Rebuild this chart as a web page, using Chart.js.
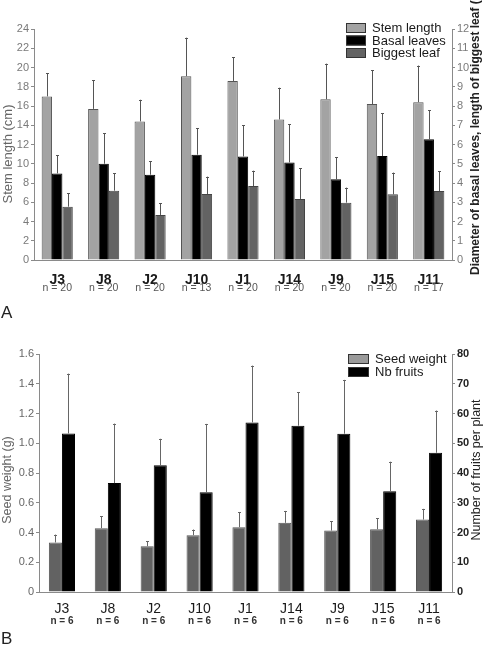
<!DOCTYPE html>
<html><head><meta charset="utf-8">
<script src="https://cdn.jsdelivr.net/npm/chart.js@4.4.0/dist/chart.umd.min.js"></script>
<style>
html,body{margin:0;padding:0;background:#fff;}
#wrap{position:relative;width:489px;height:649px;overflow:hidden;background:#fff;}
canvas{position:absolute;left:0;}
</style></head><body>
<div id="wrap">
<canvas id="cA" width="489" height="325" style="top:0"></canvas>
<canvas id="cB" width="489" height="324" style="top:325px"></canvas>
</div>
<script>
// ---------- data ----------
const categories = ['J3','J8','J2','J10','J1','J14','J9','J15','J11'];
const sampleSizeA = [20,20,20,13,20,20,20,20,17];
const sampleSizeB = [6,6,6,6,6,6,6,6,6];

const stemLength    = [17.0,15.7,14.4,19.1,18.6,14.6,16.7,16.2,16.4];
const stemLengthSD  = [2.4,3.0,2.25,4.0,2.45,3.3,3.7,3.5,3.8];
const basalLeaves   = [4.5,5.0,4.43,5.47,5.38,5.07,4.19,5.4,6.27];
const basalLeavesSD = [0.95,1.58,0.7,1.37,1.63,1.99,1.14,2.22,1.52];
const biggestLeaf   = [2.77,3.6,2.34,3.43,3.84,3.17,2.98,3.41,3.58];
const biggestLeafSD = [0.69,0.9,0.6,0.9,0.8,1.59,0.78,1.13,1.02];

const seedWeight    = [0.333,0.429,0.308,0.382,0.436,0.465,0.413,0.422,0.487];
const seedWeightSD  = [0.053,0.081,0.032,0.038,0.101,0.08,0.061,0.074,0.072];
const nbFruits      = [53.3,36.6,42.6,33.5,57.0,55.9,53.2,33.9,46.8];
const nbFruitsSD    = [20.1,20.0,8.9,23.0,19.1,11.2,18.1,9.9,14.2];

const ticksStem   = [0,2,4,6,8,10,12,14,16,18,20,22,24];
const ticksLeaf   = [0,1,2,3,4,5,6,7,8,9,10,11,12];
const ticksSeed   = [0,0.2,0.4,0.6,0.8,1.0,1.2,1.4,1.6];
const ticksFruits = [0,10,20,30,40,50,60,70,80];

// ---------- helpers ----------
const FONT = 'Arial, "Liberation Sans", sans-serif';
function setTicks(arr){ return function(scale){ scale.ticks = arr.map(v=>({value:v})); }; }

const errorBars = {
  id:'errorBars',
  afterDatasetsDraw(chart){
    const ctx = chart.ctx;
    chart.data.datasets.forEach((ds,i)=>{
      const meta = chart.getDatasetMeta(i);
      const sc = chart.scales[meta.yAxisID];
      meta.data.forEach((el,j)=>{
        const top = sc.getPixelForValue(ds.data[j] + ds.errors[j]);
        const x = Math.round(el.x) + 0.5;
        ctx.save();
        ctx.strokeStyle = ds.errColor || '#555';
        ctx.lineWidth = 1;
        ctx.beginPath();
        ctx.moveTo(x, el.y);
        ctx.lineTo(x, top);
        ctx.moveTo(x-1.5, Math.round(top)+0.5);
        ctx.lineTo(x+1.5, Math.round(top)+0.5);
        ctx.stroke();
        ctx.restore();
      });
    });
  }
};

function decorPlugin(cfg){
  return {
    id:'decor',
    afterDraw(chart){
      const ctx = chart.ctx;
      const xs = chart.scales.x;
      ctx.save();
      ctx.font = cfg.nFont;
      ctx.fillStyle = cfg.nColor;
      ctx.textAlign = 'center';
      ctx.textBaseline = 'middle';
      cfg.n.forEach((n,i)=>{
        ctx.fillText('n = ' + n, xs.getPixelForTick(i), cfg.nY);
      });
      cfg.titles.forEach(t=>{
        ctx.save();
        ctx.translate(t.x, t.y);
        ctx.rotate(-Math.PI/2);
        ctx.font = t.font;
        ctx.fillStyle = t.color;
        ctx.textAlign = t.align;
        ctx.textBaseline = 'middle';
        ctx.fillText(t.text, 0, 0);
        ctx.restore();
      });
      cfg.legend.items.forEach((it,k)=>{
        const y = cfg.legend.y + k*cfg.legend.step;
        ctx.fillStyle = it.color;
        ctx.fillRect(cfg.legend.x, y, cfg.legend.w, cfg.legend.h);
        ctx.strokeStyle = '#333';
        ctx.lineWidth = 1;
        ctx.strokeRect(cfg.legend.x+0.5, y+0.5, cfg.legend.w-1, cfg.legend.h-1);
        ctx.fillStyle = '#1a1a1a';
        ctx.font = cfg.legend.font;
        ctx.textAlign = 'left';
        ctx.textBaseline = 'middle';
        ctx.fillText(it.label, cfg.legend.x + cfg.legend.w + 6, y + cfg.legend.h/2 + 0.5);
      });
      ctx.font = cfg.letter.font;
      ctx.fillStyle = '#222';
      ctx.textAlign = 'left';
      ctx.textBaseline = 'middle';
      ctx.fillText(cfg.letter.text, cfg.letter.x, cfg.letter.y);
      ctx.restore();
    }
  };
}

function yAxis(pos, arr, width, color, font, fmt){
  return {
    position: pos,
    min: arr[0], max: arr[arr.length-1],
    afterBuildTicks: setTicks(arr),
    afterFit(s){ s.width = width; },
    border: {display:true, color:'#8a8a8a', width:1},
    grid: {display:true, drawOnChartArea:false, drawTicks:true, tickLength:3, color:'#8a8a8a'},
    ticks: {color: color, font: font, padding: 2, callback: fmt || (v=>String(v))}
  };
}

// ---------- Chart A ----------
new Chart(document.getElementById('cA'), {
  type: 'bar',
  data: {
    labels: categories,
    datasets: [
      {label:'Stem length', data: stemLength, errors: stemLengthSD, yAxisID:'y',
       backgroundColor:'#a3a3a3', borderColor:'#555', borderWidth:1, errColor:'#555'},
      {label:'Basal leaves', data: basalLeaves, errors: basalLeavesSD, yAxisID:'y2',
       backgroundColor:'#000', borderColor:'#000', borderWidth:1, errColor:'#555'},
      {label:'Biggest leaf', data: biggestLeaf, errors: biggestLeafSD, yAxisID:'y2',
       backgroundColor:'#636363', borderColor:'#444', borderWidth:1, errColor:'#555'}
    ]
  },
  options: {
    responsive:false, animation:false, devicePixelRatio:1,
    layout:{padding:{top:29, left:0, right:0, bottom:0}},
    datasets:{bar:{categoryPercentage:0.67, barPercentage:1.0}},
    plugins:{legend:{display:false}, tooltip:{enabled:false}},
    scales:{
      x:{
        afterFit(s){ s.height = 65; },
        border:{display:true, color:'#8a8a8a', width:1},
        grid:{display:false, drawTicks:false},
        ticks:{color:'#1a1a1a', font:{family:FONT, size:14, weight:'bold'}, padding:12, maxRotation:0, autoSkip:false}
      },
      y: yAxis('left', ticksStem, 34, '#7a7a7a', {family:FONT, size:11}),
      y2: yAxis('right', ticksLeaf, 37, '#7a7a7a', {family:FONT, size:11})
    }
  },
  plugins:[errorBars, decorPlugin({
    n: sampleSizeA, nFont: '10.5px ' + FONT, nColor:'#555', nY: 288.5,
    titles:[
      {text:'Stem length (cm)', x:8, y:154, font:'13px '+FONT, color:'#666', align:'center'},
      {text:'Diameter of basal leaves, length of biggest leaf (cm)', x:476, y:275, font:'bold 12px '+FONT, color:'#222', align:'left'}
    ],
    legend:{x:346, y:23, w:20, h:10, step:12.5, font:'13px '+FONT, items:[
      {label:'Stem length', color:'#a3a3a3'},
      {label:'Basal leaves', color:'#000'},
      {label:'Biggest leaf', color:'#636363'}
    ]},
    letter:{text:'A', x:1, y:313, font:'17px '+FONT}
  })]
});

// ---------- Chart B ----------
new Chart(document.getElementById('cB'), {
  type: 'bar',
  data: {
    labels: categories,
    datasets: [
      {label:'Seed weight', data: seedWeight, errors: seedWeightSD, yAxisID:'y',
       backgroundColor:'#626262', borderColor:'#555', borderWidth:1, errColor:'#666'},
      {label:'Nb fruits', data: nbFruits, errors: nbFruitsSD, yAxisID:'y2',
       backgroundColor:'#000', borderColor:'#000', borderWidth:1, errColor:'#666'}
    ]
  },
  options: {
    responsive:false, animation:false, devicePixelRatio:1,
    layout:{padding:{top:29, left:0, right:0, bottom:0}},
    datasets:{bar:{categoryPercentage:0.57, barPercentage:1.0}},
    plugins:{legend:{display:false}, tooltip:{enabled:false}},
    scales:{
      x:{
        afterFit(s){ s.height = 57; },
        border:{display:true, color:'#8a8a8a', width:1},
        grid:{display:false, drawTicks:false},
        ticks:{color:'#1a1a1a', font:{family:FONT, size:14}, padding:9, maxRotation:0, autoSkip:false}
      },
      y: yAxis('left', ticksSeed, 39, '#666', {family:FONT, size:11}, v=> v===0 ? '0' : v.toFixed(1)),
      y2: yAxis('right', ticksFruits, 37, '#222', {family:FONT, size:11, weight:'bold'})
    }
  },
  plugins:[errorBars, decorPlugin({
    n: sampleSizeB, nFont: 'bold 10px ' + FONT, nColor:'#333', nY: 296,
    titles:[
      {text:'Seed weight (g)', x:8, y:155, font:'12.5px '+FONT, color:'#666', align:'center'},
      {text:'Number of fruits per plant', x:477, y:145, font:'12.5px '+FONT, color:'#222', align:'center'}
    ],
    legend:{x:348, y:29, w:21, h:10, step:13, font:'13px '+FONT, items:[
      {label:'Seed weight', color:'#9a9a9a'},
      {label:'Nb fruits', color:'#000'}
    ]},
    letter:{text:'B', x:1, y:314, font:'17px '+FONT}
  })]
});
</script>
</body></html>
